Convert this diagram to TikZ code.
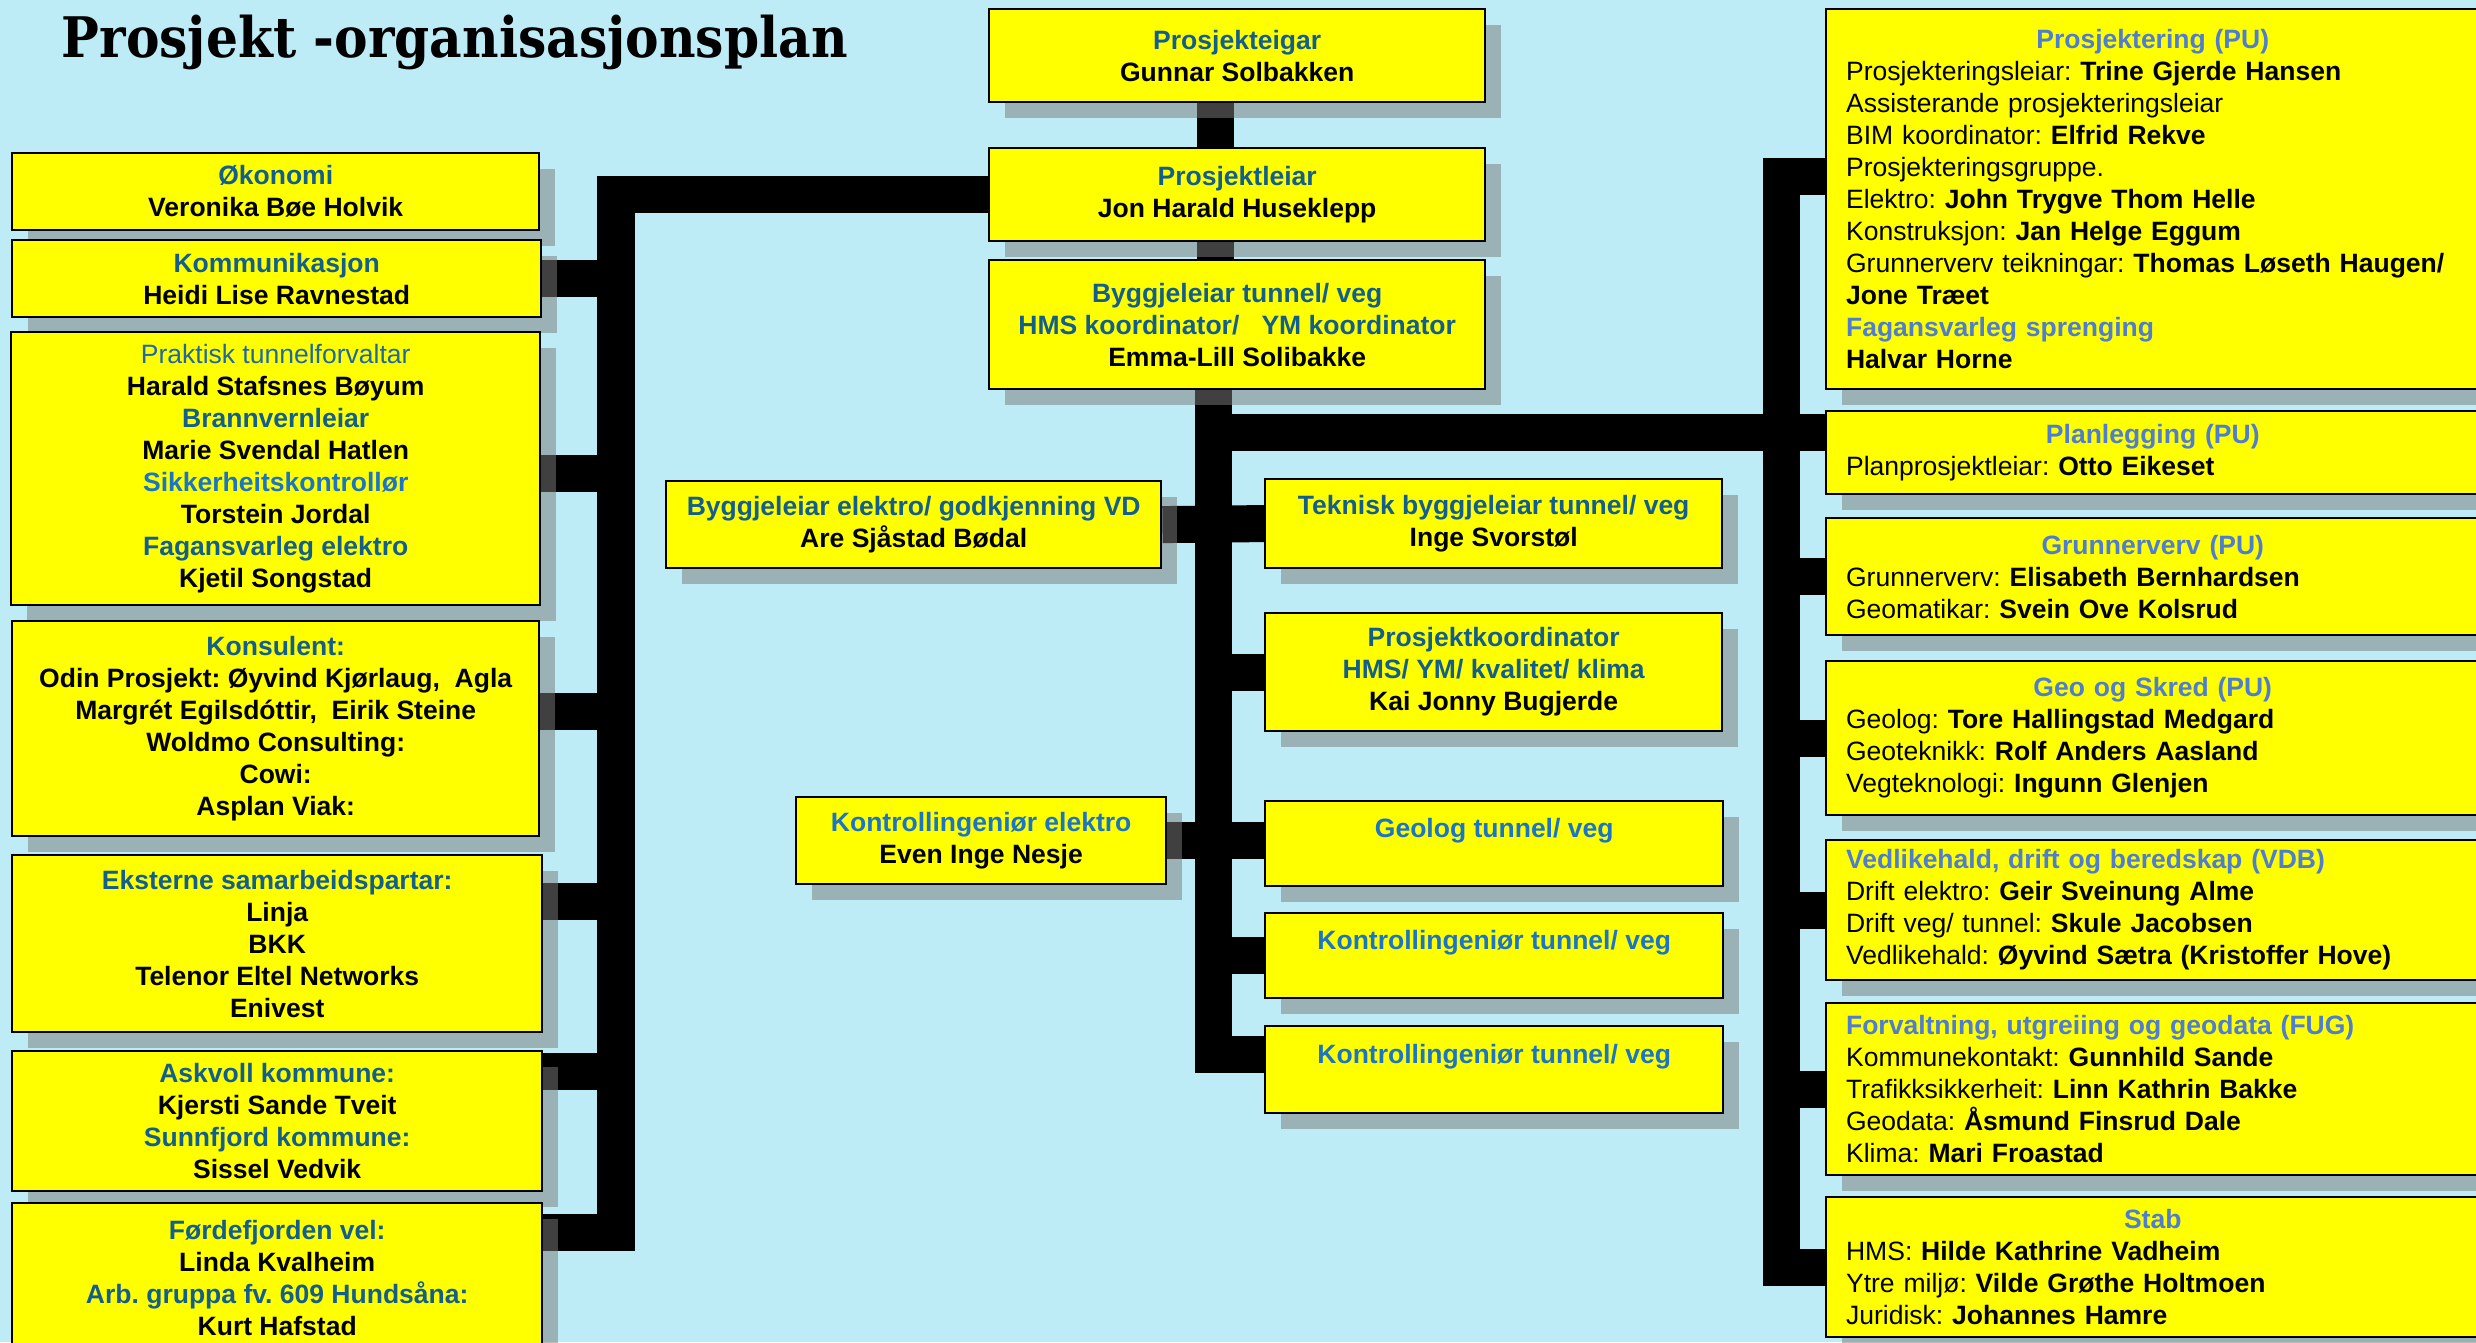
\documentclass[tikz,border=0pt]{standalone}
\usepackage{fontspec}
\setmainfont{Liberation Sans}
\newfontfamily\titlefont[FakeStretch=0.9]{DejaVu Serif}
\usepackage{xcolor}
\usetikzlibrary{shadows}
\definecolor{bgblue}{RGB}{189,236,247}
\definecolor{boxyellow}{RGB}{255,255,0}
\definecolor{tblue}{RGB}{18,94,140}
\definecolor{lblue}{RGB}{30,104,165}
\definecolor{kblue}{RGB}{27,117,198}
\definecolor{rblue}{RGB}{79,125,208}
\definecolor{shadowgray}{RGB}{123,123,123}
\pgfdeclarelayer{bg}
\pgfdeclarelayer{conn}
\pgfsetlayers{bg,conn,main}

\begin{document}
\frenchspacing
\begin{tikzpicture}[x=0.01cm, y=-0.01cm,
		orgbox/.style={draw=black, line width=0.6pt, fill=boxyellow, anchor=north west, inner sep=0pt, align=center,
			font=\fontsize{7.54pt}{9.1pt}\selectfont\bfseries,
			drop shadow={shadow xshift=0.16cm, shadow yshift=-0.16cm, fill=shadowgray, opacity=0.52}},
		listbox/.style={orgbox, align=left, inner xsep=0.2cm, text width=6.3cm,
			font=\fontsize{7.54pt}{9.1pt}\selectfont},
		bar/.style={line width=0.37cm, black}]
		\useasboundingbox (0,0) rectangle (2476,1342);
		\begin{pgfonlayer}{bg}
			\fill[bgblue] (0,0) rectangle (2476,1342);
		\end{pgfonlayer}

		\node[anchor=base west, inner sep=0pt, font=\titlefont\fontsize{15.9pt}{19pt}\selectfont\bfseries] (title) at (61,57) {Prosjekt -organisasjonsplan};

		\node[orgbox, minimum width=4.96cm, minimum height=0.93cm] (eigar) at (988,8) {\textcolor{tblue}{Prosjekteigar}\\Gunnar Solbakken};
		\node[orgbox, minimum width=4.96cm, minimum height=0.93cm] (leiar) at (988,147) {\textcolor{tblue}{Prosjektleiar}\\Jon Harald Huseklepp};
		\node[orgbox, minimum width=4.96cm, minimum height=1.29cm] (bygg) at (988,259) {\textcolor{tblue}{Byggjeleiar tunnel/ veg}\\\textcolor{tblue}{HMS koordinator/\ \ \ YM koordinator}\\Emma-Lill Solibakke};

		\node[orgbox, minimum width=5.27cm, minimum height=0.77cm] (okon) at (11,152) {\textcolor{tblue}{Økonomi}\\Veronika Bøe Holvik};
		\node[orgbox, minimum width=5.29cm, minimum height=0.77cm] (komm) at (11,239) {\textcolor{tblue}{Kommunikasjon}\\Heidi Lise Ravnestad};
		\node[orgbox, minimum width=5.29cm, minimum height=2.73cm] (prak) at (10,331) {\textcolor{lblue}{\mdseries Praktisk tunnelforvaltar}\\Harald Stafsnes Bøyum\\\textcolor{tblue}{Brannvernleiar}\\Marie Svendal Hatlen\\\textcolor{kblue}{Sikkerheitskontrollør}\\Torstein Jordal\\\textcolor{tblue}{Fagansvarleg elektro}\\Kjetil Songstad};
		\node[orgbox, minimum width=5.27cm, minimum height=2.15cm] (kons) at (11,620) {\textcolor{tblue}{Konsulent:}\\Odin Prosjekt: Øyvind Kjørlaug,\ \ Agla\\Margrét Egilsdóttir,\ \ Eirik Steine\\Woldmo Consulting:\\Cowi:\\Asplan Viak:};
		\node[orgbox, minimum width=5.30cm, minimum height=1.77cm] (ekst) at (11,854) {\textcolor{tblue}{Eksterne samarbeidspartar:}\\Linja\\BKK\\Telenor Eltel Networks\\Enivest};
		\node[orgbox, minimum width=5.30cm, minimum height=1.40cm] (askv) at (11,1050) {\textcolor{tblue}{Askvoll kommune:}\\Kjersti Sande Tveit\\\textcolor{tblue}{Sunnfjord kommune:}\\Sissel Vedvik};
		\node[orgbox, minimum width=5.30cm, minimum height=1.50cm] (fode) at (11,1202) {\textcolor{tblue}{Førdefjorden vel:}\\Linda Kvalheim\\\textcolor{tblue}{Arb. gruppa fv. 609 Hundsåna:}\\Kurt Hafstad};

		\node[orgbox, minimum width=4.95cm, minimum height=0.87cm] (elek) at (665,480) {\textcolor{tblue}{Byggjeleiar elektro/ godkjenning VD}\\Are Sjåstad Bødal};
		\node[orgbox, minimum width=3.70cm, minimum height=0.87cm] (kele) at (795,796) {\textcolor{kblue}{Kontrollingeniør elektro}\\Even Inge Nesje};

		\node[orgbox, minimum width=4.57cm, minimum height=0.89cm] (tekn) at (1264,478) {\textcolor{tblue}{Teknisk byggjeleiar tunnel/ veg}\\Inge Svorstøl};
		\node[orgbox, minimum width=4.57cm, minimum height=1.18cm] (pkoo) at (1264,612) {\textcolor{tblue}{Prosjektkoordinator}\\\textcolor{tblue}{HMS/ YM/ kvalitet/ klima}\\Kai Jonny Bugjerde};
		\node[orgbox, minimum width=4.58cm, minimum height=0.85cm] (geol) at (1264,800) {\textcolor{kblue}{Geolog tunnel/ veg}\\\mbox{}};
		\node[orgbox, minimum width=4.58cm, minimum height=0.85cm] (kon1) at (1264,912) {\textcolor{kblue}{Kontrollingeniør tunnel/ veg}\\\mbox{}};
		\node[orgbox, minimum width=4.58cm, minimum height=0.87cm] (kon2) at (1264,1025) {\textcolor{kblue}{Kontrollingeniør tunnel/ veg}\\\mbox{}};

		\node[listbox, minimum height=3.80cm] (prj) at (1825,8) {\makebox[6.13cm]{\textcolor{rblue}{\bfseries Prosjektering (PU)}}\\Prosjekteringsleiar: \textbf{Trine Gjerde Hansen}\\Assisterande prosjekteringsleiar\\BIM koordinator: \textbf{Elfrid Rekve}\\Prosjekteringsgruppe.\\Elektro: \textbf{John Trygve Thom Helle}\\Konstruksjon: \textbf{Jan Helge Eggum}\\Grunnerverv teikningar: \textbf{Thomas Løseth Haugen/}\\\textbf{Jone Træet}\\\textcolor{rblue}{\bfseries Fagansvarleg sprenging}\\\textbf{Halvar Horne}};
		\node[listbox, minimum height=0.83cm] (plan) at (1825,410) {\makebox[6.13cm]{\textcolor{rblue}{\bfseries Planlegging (PU)}}\\Planprosjektleiar: \textbf{Otto Eikeset}};
		\node[listbox, minimum height=1.17cm] (grun) at (1825,517) {\makebox[6.13cm]{\textcolor{rblue}{\bfseries Grunnerverv (PU)}}\\Grunnerverv: \textbf{Elisabeth Bernhardsen}\\Geomatikar: \textbf{Svein Ove Kolsrud}};
		\node[listbox, minimum height=1.54cm] (geo) at (1825,660) {\makebox[6.13cm]{\textcolor{rblue}{\bfseries Geo og Skred (PU)}}\\Geolog: \textbf{Tore Hallingstad Medgard}\\Geoteknikk: \textbf{Rolf Anders Aasland}\\Vegteknologi: \textbf{Ingunn Glenjen}};
		\node[listbox, minimum height=1.40cm] (vdb) at (1825,839) {\textcolor{rblue}{\bfseries Vedlikehald, drift og beredskap (VDB)}\\Drift elektro: \textbf{Geir Sveinung Alme}\\Drift veg/ tunnel: \textbf{Skule Jacobsen}\\Vedlikehald: \textbf{Øyvind Sætra (Kristoffer Hove)}};
		\node[listbox, minimum height=1.72cm] (fug) at (1825,1002) {\textcolor{rblue}{\bfseries Forvaltning, utgreiing og geodata (FUG)}\\Kommunekontakt: \textbf{Gunnhild Sande}\\Trafikksikkerheit: \textbf{Linn Kathrin Bakke}\\Geodata: \textbf{Åsmund Finsrud Dale}\\Klima: \textbf{Mari Froastad}};
		\node[listbox, minimum height=1.40cm] (stab) at (1825,1196) {\makebox[6.13cm]{\textcolor{rblue}{\bfseries Stab}}\\HMS: \textbf{Hilde Kathrine Vadheim}\\Ytre miljø: \textbf{Vilde Grøthe Holtmoen}\\Juridisk: \textbf{Johannes Hamre}};

		% connectors go under the boxes and their shadows
		\begin{pgfonlayer}{conn}
			\coordinate (lbus) at (616,194);
			\coordinate (cbus) at ([xshift=-0.24cm]bygg.south);
			\coordinate (rbus) at (1781,175);
			\draw[bar] ([xshift=-0.22cm]eigar.south) -- ([xshift=-0.22cm]bygg.north);

			\coordinate (fodein) at ([yshift=0.46cm]fode.east);
			\draw[bar] (leiar.west) -| (fodein -| lbus) -- (fodein);
			\foreach \n/\s in {komm/0, prak/-0.05, kons/0.17, ekst/0.42, askv/0.5} {
				\coordinate (a) at ([yshift=\s cm]\n.east);
				\draw[bar] (a) -- (a -| lbus);
			}

			\coordinate (kon2in) at ([yshift=0.15cm]kon2.west);
			\draw[bar] (cbus) |- (kon2in);
			\draw[bar] (elek.east) -- (tekn.west);
			\draw[bar] (kele.east) -- (kele.east -| geol.west);
			\foreach \n in {pkoo, kon1}
				\draw[bar] (\n.west) -- (\n.west -| cbus);
			\coordinate (planin) at ([yshift=0.2cm]plan.west);
			\draw[bar] (planin -| cbus) -- (planin);

			\coordinate (prjin) at ([yshift=0.23cm]prj.west);
			\draw[bar] (prjin) -| (stab.west -| rbus) -- (stab.west);
			\foreach \n in {grun, geo, vdb, fug}
				\draw[bar] (\n.west) -- (\n.west -| rbus);
		\end{pgfonlayer}
	\end{tikzpicture}
\end{document}
